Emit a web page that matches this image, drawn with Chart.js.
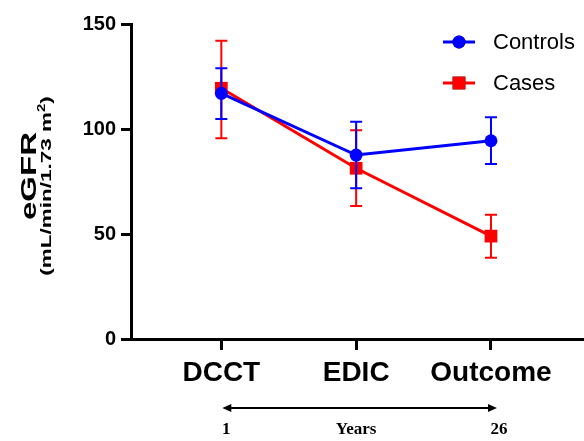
<!DOCTYPE html>
<html lang="en">
<head>
  <meta charset="UTF-8">
  <title>eGFR Controls vs Cases</title>
  <script src="https://cdn.jsdelivr.net/npm/chart.js@4.4.0/dist/chart.umd.min.js"></script>
  <style>
    html, body { margin: 0; padding: 0; background: #fff; }
    #wrap { width: 584px; height: 441px; }
  </style>
</head>
<body>
  <div id="wrap"><canvas id="chart" width="584" height="441"></canvas></div>

  <script>
    // data
    const categories = ['DCCT', 'EDIC', 'Outcome'];
    const xPositions = [1, 2, 3];
    const controlsMean = [117, 87.6, 94.4];
    const controlsLow = [104.8, 71.8, 83.3];
    const controlsHigh = [128.9, 103.5, 105.6];
    const casesMean = [119.4, 81.3, 49];
    const casesLow = [95.6, 63.3, 38.7];
    const casesHigh = [142, 99.4, 59.2];
    const yTicks = [0, 50, 100, 150];
    const yearLabels = ['1', 'Years', '26'];

    const SANS = '"Liberation Sans", Arial, sans-serif';
    const SERIF = '"Liberation Serif", "Times New Roman", serif';

    const errLow = [controlsLow, casesLow];
    const errHigh = [controlsHigh, casesHigh];

    // error bars drawn just before each dataset so later series sit on top
    const errorBars = {
      id: 'errorBars',
      beforeDatasetDraw(chart, args) {
        const ctx = chart.ctx;
        const y = chart.scales.y;
        const ds = chart.data.datasets[args.index];
        ctx.save();
        ctx.strokeStyle = ds.borderColor;
        ctx.lineWidth = 2;
        args.meta.data.forEach((pt, i) => {
          const top = y.getPixelForValue(errHigh[args.index][i]);
          const bot = y.getPixelForValue(errLow[args.index][i]);
          ctx.beginPath();
          ctx.moveTo(pt.x, top); ctx.lineTo(pt.x, bot);
          ctx.moveTo(pt.x - 6, top); ctx.lineTo(pt.x + 6, top);
          ctx.moveTo(pt.x - 6, bot); ctx.lineTo(pt.x + 6, bot);
          ctx.stroke();
        });
        ctx.restore();
      }
    };

    // y title, legend and the years arrow under the x axis
    const extras = {
      id: 'extras',
      afterDraw(chart) {
        const ctx = chart.ctx;
        ctx.save();
        ctx.fillStyle = '#000';

        // rotated axis title (stretched along its length like the source figure)
        ctx.save();
        ctx.translate(36, 176);
        ctx.rotate(-Math.PI / 2);
        ctx.scale(1.5, 1);
        ctx.font = 'bold 22px ' + SANS;
        ctx.textAlign = 'center';
        ctx.fillText('eGFR', 0, 0);
        ctx.restore();

        // unit line with a real superscript 2
        ctx.save();
        ctx.translate(51, 186);
        ctx.rotate(-Math.PI / 2);
        ctx.scale(1.5, 1);
        const big = 'bold 15px ' + SANS, small = 'bold 10px ' + SANS;
        const partA = '(mL/min/1.73 m', sup = '2', partB = ')';
        ctx.font = big;
        const wA = ctx.measureText(partA).width, wB = ctx.measureText(partB).width;
        ctx.font = small;
        const wS = ctx.measureText(sup).width;
        let px = -(wA + wS + wB) / 2;
        ctx.textAlign = 'left';
        ctx.font = big;
        ctx.fillText(partA, px, 0); px += wA;
        ctx.font = small;
        ctx.fillText(sup, px, -6); px += wS;
        ctx.font = big;
        ctx.fillText(partB, px, 0);
        ctx.restore();

        // legend
        const rows = [{ ds: chart.data.datasets[0], y: 42 }, { ds: chart.data.datasets[1], y: 83 }];
        rows.forEach(r => {
          ctx.strokeStyle = r.ds.borderColor;
          ctx.lineWidth = 3;
          ctx.beginPath();
          ctx.moveTo(443, r.y); ctx.lineTo(475, r.y);
          ctx.stroke();
          Chart.helpers.drawPoint(ctx, {
            pointStyle: r.ds.pointStyle, radius: r.ds.pointRadius, borderWidth: 0
          }, 459, r.y);
          ctx.fillStyle = r.ds.backgroundColor;
          ctx.fill();
          ctx.fillStyle = '#000';
          ctx.font = '22px ' + SANS;
          ctx.textAlign = 'left';
          ctx.textBaseline = 'middle';
          ctx.fillText(r.ds.label, 493, r.y + 1);
        });

        // years arrow
        const x = chart.scales.x;
        const x0 = x.getPixelForValue(xPositions[0]) + 1;
        const x1 = x.getPixelForValue(xPositions[2]) + 6;
        const ay = 408;
        ctx.strokeStyle = '#000';
        ctx.fillStyle = '#000';
        ctx.lineWidth = 2;
        ctx.beginPath();
        ctx.moveTo(x0 + 4, ay); ctx.lineTo(x1 - 4, ay);
        ctx.stroke();
        ctx.beginPath();
        ctx.moveTo(x0, ay); ctx.lineTo(x0 + 9, ay - 4); ctx.lineTo(x0 + 9, ay + 4); ctx.closePath();
        ctx.moveTo(x1, ay); ctx.lineTo(x1 - 9, ay - 4); ctx.lineTo(x1 - 9, ay + 4); ctx.closePath();
        ctx.fill();

        ctx.font = 'bold 17px ' + SERIF;
        ctx.textAlign = 'center';
        ctx.textBaseline = 'middle';
        ctx.fillText(yearLabels[0], x0 + 4, 430);
        ctx.fillText(yearLabels[1], x.getPixelForValue(xPositions[1]), 430);
        ctx.fillText(yearLabels[2], x1 + 2, 430);
        ctx.restore();
      }
    };

    function toPoints(vals) {
      return vals.map((v, i) => ({ x: xPositions[i], y: v }));
    }

    new Chart(document.getElementById('chart'), {
      type: 'line',
      data: {
        datasets: [
          {
            label: 'Controls', data: toPoints(controlsMean),
            borderColor: '#0000ff', backgroundColor: '#0000ff',
            borderWidth: 3, pointStyle: 'circle', pointRadius: 6.5,
            pointBorderWidth: 0, tension: 0, clip: false
          },
          {
            label: 'Cases', data: toPoints(casesMean),
            borderColor: '#ff0000', backgroundColor: '#ff0000',
            borderWidth: 3, pointStyle: 'rect', pointRadius: 9,
            pointBorderWidth: 0, tension: 0, clip: false
          }
        ]
      },
      options: {
        responsive: false,
        animation: false,
        layout: { autoPadding: false, padding: { top: 24, right: 0, bottom: 0, left: 0 } },
        plugins: { legend: { display: false }, tooltip: { enabled: false } },
        scales: {
          x: {
            type: 'linear', min: 0.33, max: 3.69,
            afterBuildTicks: s => { s.ticks = xPositions.map(v => ({ value: v })); },
            afterFit: s => { s.height = 102; s.paddingLeft = 0; s.paddingRight = 0; },
            border: { color: '#000', width: 3 },
            grid: { drawOnChartArea: false, drawTicks: true, tickLength: 11, color: '#000', lineWidth: 3 },
            ticks: {
              color: '#000', padding: 6, maxRotation: 0, autoSkip: false,
              font: { family: SANS, size: 28, weight: 'bold' },
              callback: v => categories[xPositions.indexOf(v)] || ''
            }
          },
          y: {
            min: 0, max: 150,
            afterBuildTicks: s => { s.ticks = yTicks.map(v => ({ value: v })); },
            afterFit: s => { s.width = 131; },
            border: { color: '#000', width: 3 },
            grid: { drawOnChartArea: false, drawTicks: true, tickLength: 10, color: '#000', lineWidth: 3 },
            ticks: {
              color: '#000', padding: 5,
              font: { family: SANS, size: 20, weight: 'bold' }
            }
          }
        }
      },
      plugins: [errorBars, extras]
    });
  </script>
</body>
</html>
